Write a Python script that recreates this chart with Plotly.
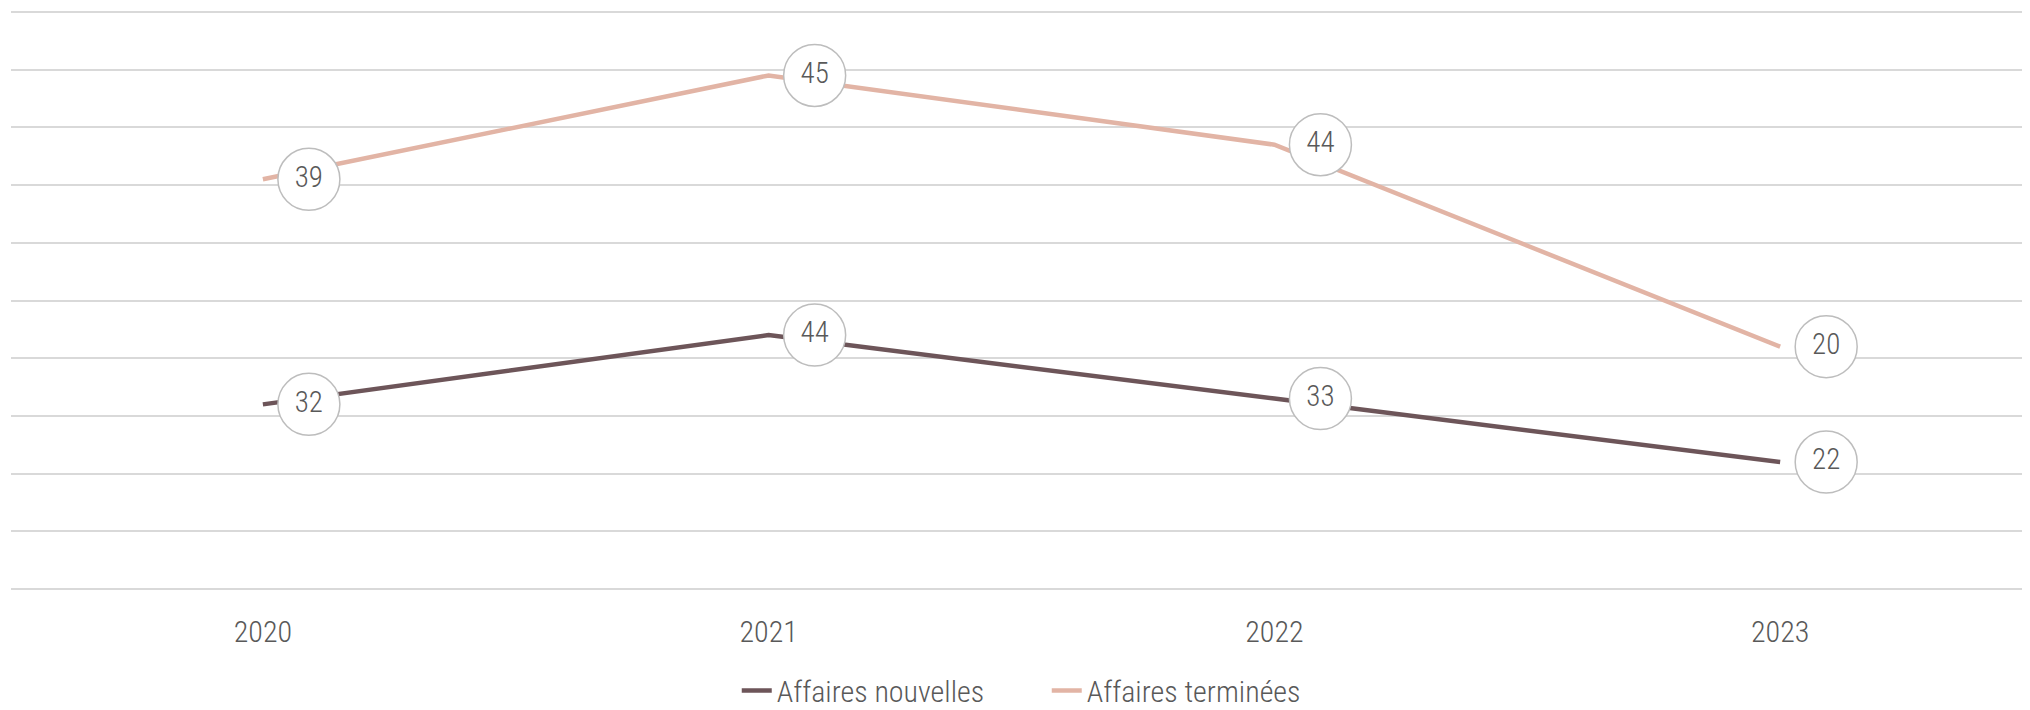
import numpy as np
import plotly.graph_objects as go

years = ["2020", "2021", "2022", "2023"]
nouvelles = [32, 44, 33, 22]
terminees = [39, 45, 44, 20]
series_names = ["Affaires nouvelles", "Affaires terminées"]
series_colors = ["#6d5559", "#e2b4a5"]

FONT = "Roboto Condensed, Roboto, sans-serif"
TEXT_COLOR = "#595959"

idx = np.arange(len(years))
label_shift = 0.091

fig = go.Figure()
for name, vals, col in zip(series_names, [nouvelles, terminees], series_colors):
    fig.add_trace(go.Scatter(
        x=idx, y=vals, name=name, mode="lines", stackgroup="s", fill="none",
        line=dict(color=col, width=4.5), hoverinfo="skip",
    ))

cum = np.cumsum(np.array([nouvelles, terminees]), axis=0)
for vals, top in zip([nouvelles, terminees], cum):
    fig.add_trace(go.Scatter(
        x=idx + label_shift, y=top, mode="markers+text", showlegend=False,
        text=[str(v) for v in vals], textposition="middle center",
        textfont=dict(family=FONT, size=29, weight=300, color=TEXT_COLOR),
        marker=dict(size=62, color="white", line=dict(color="#bdbdbd", width=1.5)),
        hoverinfo="skip",
    ))

fig.update_layout(
    width=2022, height=702,
    margin=dict(l=3, r=0, t=0, b=117, autoexpand=False),
    paper_bgcolor="white", plot_bgcolor="white",
    showlegend=True,
    legend=dict(orientation="h", x=0.513, xanchor="center", y=-0.1665, yanchor="middle",
                font=dict(family=FONT, size=30, weight=300, color=TEXT_COLOR),
                entrywidth=265, entrywidthmode="pixels", traceorder="normal"),
    xaxis=dict(range=[-0.498, 3.494], tickmode="array", tickvals=idx, ticktext=years,
               showgrid=False, zeroline=False, showline=False, automargin=False,
               tickfont=dict(family=FONT, size=30, weight=300, color=TEXT_COLOR),
               ticklabelstandoff=18),
    yaxis=dict(range=[-0.69, 100.69], dtick=10, tick0=0, showticklabels=False, showgrid=True,
               gridcolor="#d9d9d9", gridwidth=1.5, zeroline=False, showline=False, automargin=False),
)

fig.write_html("out.html")
